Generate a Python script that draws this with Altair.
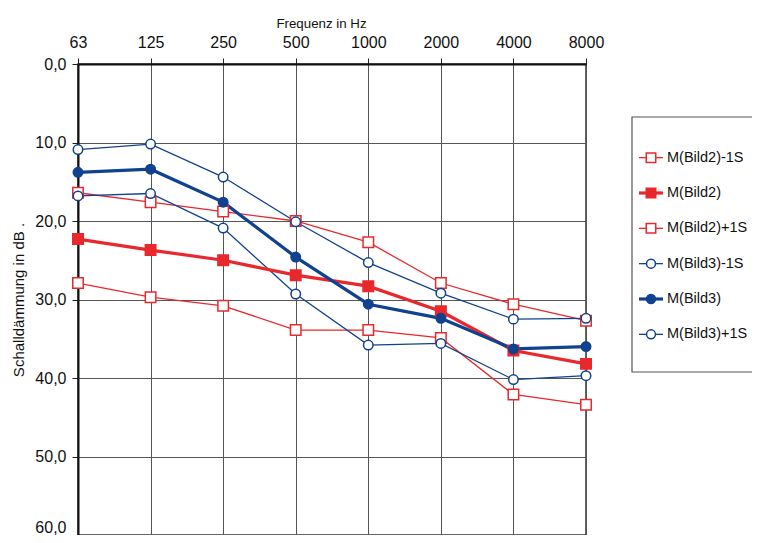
import altair as alt
import pandas as pd

freqs = ["63", "125", "250", "500", "1000", "2000", "4000", "8000"]
series_names = ["M(Bild2)-1S", "M(Bild2)", "M(Bild2)+1S", "M(Bild3)-1S", "M(Bild3)", "M(Bild3)+1S"]

bild2_minus = [16.4, 17.6, 18.8, 20.0, 22.7, 27.9, 30.6, 32.7]
bild2_mean = [22.3, 23.7, 25.0, 26.9, 28.3, 31.5, 36.5, 38.2]
bild2_plus = [27.9, 29.7, 30.8, 33.9, 33.9, 34.9, 42.1, 43.4]
bild3_minus = [10.9, 10.2, 14.4, 20.1, 25.3, 29.2, 32.5, 32.4]
bild3_mean = [13.8, 13.4, 17.6, 24.6, 30.6, 32.4, 36.3, 36.0]
bild3_plus = [16.8, 16.5, 20.9, 29.3, 35.8, 35.6, 40.2, 39.7]

all_values = [bild2_minus, bild2_mean, bild2_plus, bild3_minus, bild3_mean, bild3_plus]

RED = "#e8282d"
BLUE = "#11428f"
colors = [RED, RED, RED, BLUE, BLUE, BLUE]
fills = ["white", RED, "white", "white", BLUE, "white"]
shapes = ["square", "square", "square", "circle", "circle", "circle"]

thin_names = [series_names[i] for i in (0, 2, 3, 5)]
thick_names = [series_names[i] for i in (1, 4)]
red_names = series_names[:3]
blue_names = series_names[3:]

rows = []
for name, vals in zip(series_names, all_values):
    for f, v in zip(freqs, vals):
        rows.append({"series": name, "freq": f, "value": v})
df = pd.DataFrame(rows)
legend_df = pd.DataFrame({"series": series_names})

FONT = "Liberation Sans"

color_sc = alt.Scale(domain=series_names, range=colors)
fill_sc = alt.Scale(domain=series_names, range=fills)
shape_sc = alt.Scale(domain=series_names, range=shapes)

x_enc = alt.X(
    "freq:N",
    sort=freqs,
    scale=alt.Scale(type="point", padding=0),
    axis=alt.Axis(
        orient="top",
        title="Frequenz in Hz",
        titleX=243,
        titleAlign="center",
        labelAngle=0,
        labelFontSize=16,
        titleFontSize=13.3,
        titleFontWeight="normal",
        labelPadding=8,
        titlePadding=4,
        tickSize=6,
        domainWidth=2,
        domainColor="#111",
    ),
)
y_enc = alt.Y(
    "value:Q",
    scale=alt.Scale(domain=[0, 60], reverse=True, nice=False),
    axis=alt.Axis(
        title="Schalldämmung in dB .",
        values=[0, 10, 20, 30, 40, 50, 60],
        labelExpr="replace(format(datum.value, '.1f'), '.', ',')",
        labelBaseline={"condition": {"test": "datum.value >= 60", "value": "bottom"}, "value": "middle"},
        labelFontSize=16,
        titleFontSize=15,
        titleFontWeight="normal",
        tickSize=6,
        labelPadding=6,
        titlePadding=8,
        domainWidth=2,
        domainColor="#111",
    ),
)

def subset(src, names):
    return src.transform_filter(alt.FieldOneOfPredicate(field="series", oneOf=names))

base = alt.Chart(df)

def lines(names, width):
    return subset(base, names).mark_line(strokeWidth=width).encode(
        x=x_enc,
        y=y_enc,
        color=alt.Color("series:N", scale=color_sc, legend=None),
        detail="series:N",
    )

def points(names, size):
    return subset(base, names).mark_point(opacity=1, strokeWidth=1.5, size=size).encode(
        x=x_enc,
        y=y_enc,
        color=alt.Color("series:N", scale=color_sc, legend=None),
        fill=alt.Fill("series:N", scale=fill_sc, legend=None),
        shape=alt.Shape("series:N", scale=shape_sc, legend=None),
    )

# Legend drawn as marks beside the plot
leg_y = alt.Y(
    "series:N",
    sort=series_names,
    scale=alt.Scale(type="point", domain=series_names, range=[76, 288]),
    axis=None,
)
leg_base = alt.Chart(legend_df)

leg_box = alt.Chart(pd.DataFrame({"a": [0]})).mark_rect(
    fill="white", stroke="#555", strokeWidth=1.2
).encode(x=alt.value(554), x2=alt.value(720), y=alt.value(53), y2=alt.value(308))

def leg_lines(names, width):
    return subset(leg_base, names).mark_rule(strokeWidth=width).encode(
        x=alt.value(561),
        x2=alt.value(585),
        y=leg_y,
        color=alt.Color("series:N", scale=color_sc, legend=None),
    )

def leg_pts(names, size):
    return subset(leg_base, names).mark_point(opacity=1, strokeWidth=1.5, size=size).encode(
        x=alt.value(573),
        y=leg_y,
        color=alt.Color("series:N", scale=color_sc, legend=None),
        fill=alt.Fill("series:N", scale=fill_sc, legend=None),
        shape=alt.Shape("series:N", scale=shape_sc, legend=None),
    )

leg_text = leg_base.mark_text(
    align="left", baseline="middle", fontSize=14.5, font=FONT, color="#111"
).encode(x=alt.value(589), y=leg_y, text="series:N")

main = alt.layer(
    lines(thin_names, 1.3),
    lines(thick_names, 3.2),
    points(red_names, 110),
    points(blue_names, 90),
)
legend = alt.layer(
    leg_box,
    leg_lines(thin_names, 1.3),
    leg_lines(thick_names, 3.2),
    leg_pts(red_names, 90),
    leg_pts(blue_names, 80),
    leg_text,
)

chart = (
    alt.layer(main, legend)
    .resolve_scale(y="independent")
    .properties(
        width=508,
        height=471,
        background="white",
        autosize=alt.AutoSizeParams(type="none"),
        padding={"left": 70, "top": 56, "right": 166, "bottom": 0},
    )
    .configure_view(stroke="#333", strokeWidth=1.5)
    .configure_axis(
        grid=True,
        gridColor="#555",
        gridWidth=1,
        gridOpacity=1,
        labelFont=FONT,
        titleFont=FONT,
        labelColor="#111",
        titleColor="#111",
        tickColor="#222",
    )
)

chart.save("out.html", embed_options={"renderer": "svg", "actions": False})
